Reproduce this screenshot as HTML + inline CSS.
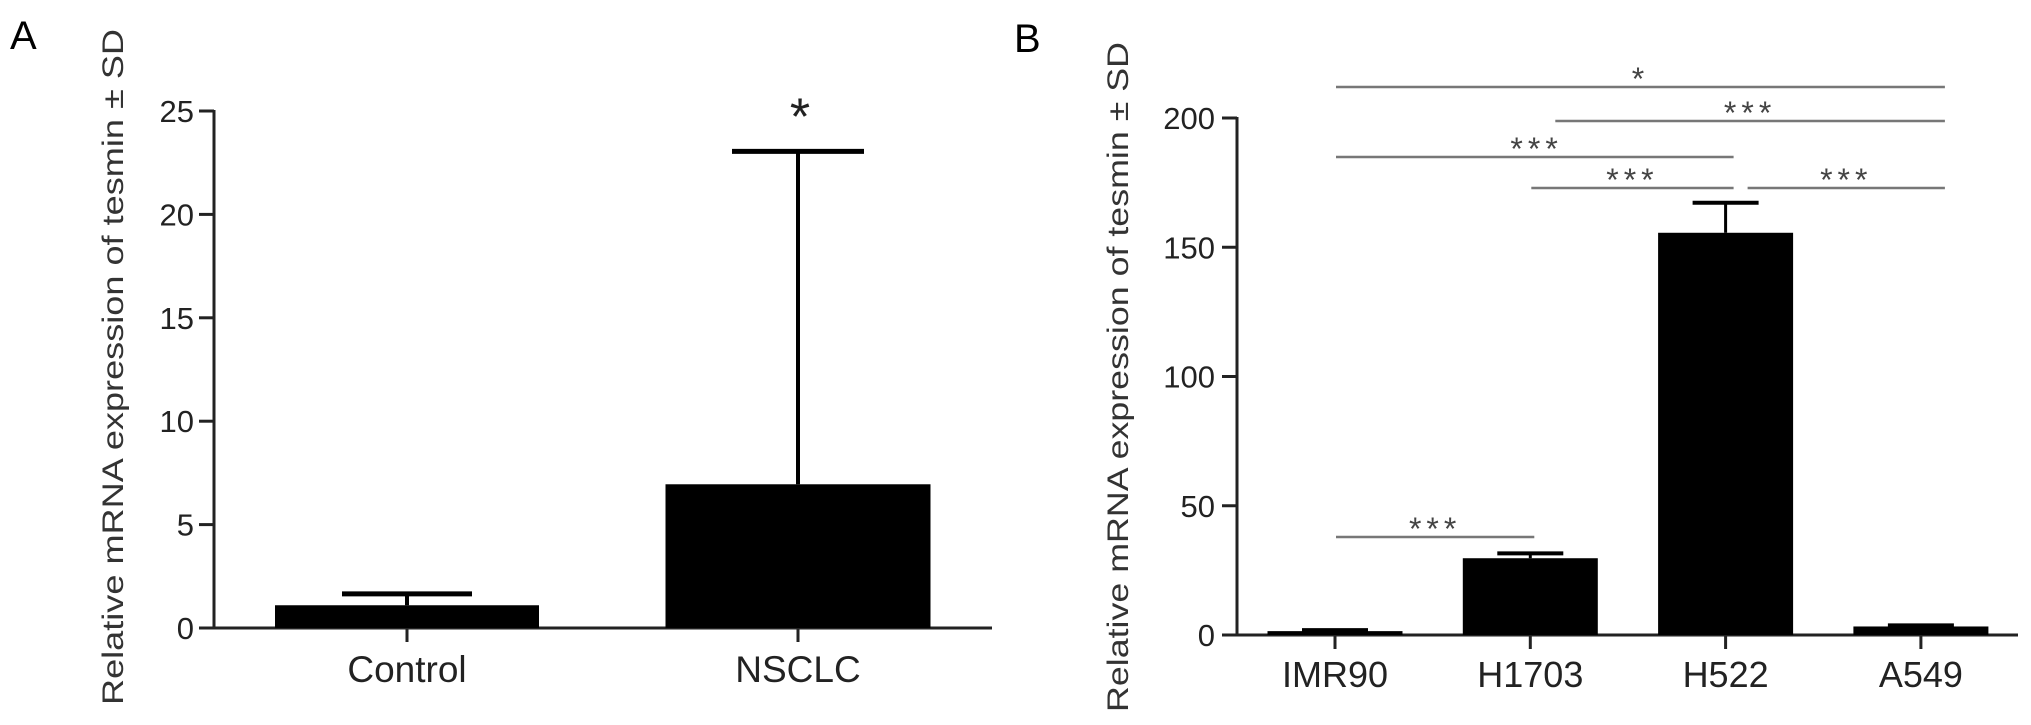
<!DOCTYPE html>
<html><head><meta charset="utf-8">
<style>
html,body{margin:0;padding:0;background:#fff;}
svg{display:block;font-family:"Liberation Sans",Arial,sans-serif;}
</style></head>
<body>
<svg id="fig" width="2031" height="725" viewBox="0 0 2031 725" xmlns="http://www.w3.org/2000/svg">
<text x="10" y="49" font-size="40">A</text>
<text x="1014" y="52" font-size="40">B</text>
<text transform="translate(123,367) rotate(-90)" text-anchor="middle" font-size="30" fill="#333" textLength="676" lengthAdjust="spacingAndGlyphs">Relative mRNA expression of tesmin ± SD</text>
<text transform="translate(1128,377) rotate(-90)" text-anchor="middle" font-size="30" fill="#333" textLength="670" lengthAdjust="spacingAndGlyphs">Relative mRNA expression of tesmin ± SD</text>
<g id="pa"></g>
<g id="pb"></g>
</svg>
<script>
const aCategories = ["Control", "NSCLC"];
const aValues = [1.1, 6.95];
const aErrors = [0.55, 16.1];
const aTicks = [0, 5, 10, 15, 20, 25];
const aStars = ["", "*"];

const bCategories = ["IMR90", "H1703", "H522", "A549"];
const bValues = [1.5, 29.7, 155.6, 3.3];
const bErrors = [0.4, 1.9, 11.6, 0.4];
const bTicks = [0, 50, 100, 150, 200];
// significance comparisons: [fromIndex, toIndex, label]
const bSigFrom = [0, 0, 1, 0, 1, 2];
const bSigTo = [3, 2, 3, 1, 2, 3];
const bSigLabel = ["*", "***", "***", "***", "***", "***"];

const NS = "http://www.w3.org/2000/svg";
function mk(parent, tag, attrs, txt){
  const e = document.createElementNS(NS, tag);
  for (const k in attrs) e.setAttribute(k, attrs[k]);
  if (txt !== undefined) e.textContent = txt;
  parent.appendChild(e);
  return e;
}

// ---------- Panel A ----------
(function(){
  const g = document.getElementById('pa');
  const x0 = 214, y0 = 628, pxPerUnit = 20.68, xEnd = 992;
  const y = v => y0 - v * pxPerUnit;
  const centers = [407, 798];
  const barW = [264, 265];
  const capW = [130, 132];
  let e = mk(g, 'line', {x1: x0, y1: y(25) - 1, x2: x0, y2: y0, stroke: '#222', 'stroke-width': 3});
  
  
  e = mk(g, 'line', {x1: 199, y1: y0, x2: xEnd, y2: y0, stroke: '#222', 'stroke-width': 3});
  
  
  aTicks.forEach(t => {
    let tk = mk(g, 'line', {x1: 199, y1: y(t), x2: x0, y2: y(t), stroke: '#222', 'stroke-width': 3});
    
    
    let tl = mk(g, 'text', {x: 194, y: y(t) + 11, 'text-anchor': 'end', 'font-size': 31, fill: '#222'}, String(t));
    
    
  });
  aCategories.forEach((c, i) => {
    const cx = centers[i];
    const top = y(aValues[i]);
    const errTop = y(aValues[i] + aErrors[i]);
    let ev = mk(g, 'line', {x1: cx, y1: errTop, x2: cx, y2: top, stroke: '#000', 'stroke-width': 4});
    
    
    let cap = mk(g, 'line', {x1: cx - capW[i] / 2, y1: errTop, x2: cx + capW[i] / 2, y2: errTop, stroke: '#000', 'stroke-width': 5});
    
    
    let b = mk(g, 'rect', {x: cx - barW[i] / 2, y: top, width: barW[i], height: y0 - top, fill: '#000'});
    
    
    let tk = mk(g, 'line', {x1: cx, y1: y0, x2: cx, y2: y0 + 14, stroke: '#222', 'stroke-width': 3});
    
    
    let lb = mk(g, 'text', {x: cx, y: 682, 'text-anchor': 'middle', 'font-size': 37, fill: '#222'}, c);
    
    
    if (aStars[i]) {
      let st = mk(g, 'text', {x: cx + 2, y: errTop - 17, 'text-anchor': 'middle', 'font-size': 52, fill: '#222'}, aStars[i]);
      
      
    }
  });
})();

// ---------- Panel B ----------
(function(){
  const g = document.getElementById('pb');
  const x0 = 1237, y0 = 635, pxPerUnit = 2.585, xEnd = 2018;
  const y = v => y0 - v * pxPerUnit;
  const xc = i => 1335 + i * 195.3;
  const barW = 135, capW = 66;
  let e = mk(g, 'line', {x1: x0, y1: y(200) - 1, x2: x0, y2: y0, stroke: '#222', 'stroke-width': 3});
  
  
  e = mk(g, 'line', {x1: 1222, y1: y0, x2: xEnd, y2: y0, stroke: '#222', 'stroke-width': 3});
  
  
  bTicks.forEach(t => {
    let tk = mk(g, 'line', {x1: 1222, y1: y(t), x2: x0, y2: y(t), stroke: '#222', 'stroke-width': 3});
    
    
    let tl = mk(g, 'text', {x: 1215, y: y(t) + 11, 'text-anchor': 'end', 'font-size': 31, fill: '#222'}, String(t));
    
    
  });
  bCategories.forEach((c, i) => {
    const cx = xc(i);
    const top = y(bValues[i]);
    const errTop = y(bValues[i] + bErrors[i]);
    let ev = mk(g, 'line', {x1: cx, y1: errTop, x2: cx, y2: top, stroke: '#000', 'stroke-width': 3});
    
    
    let cap = mk(g, 'line', {x1: cx - capW / 2, y1: errTop, x2: cx + capW / 2, y2: errTop, stroke: '#000', 'stroke-width': 4});
    
    
    let b = mk(g, 'rect', {x: cx - barW / 2, y: top, width: barW, height: y0 - top, fill: '#000'});
    
    
    let tk = mk(g, 'line', {x1: cx, y1: y0, x2: cx, y2: y0 + 14, stroke: '#222', 'stroke-width': 3});
    
    
    let lb = mk(g, 'text', {x: cx, y: 687, 'text-anchor': 'middle', 'font-size': 36, fill: '#222'}, c);
    
    
  });
  // significance brackets
  const sigY = [87, 157, 121, 537, 188, 188];
  bSigFrom.forEach((f, k) => {
    const t = bSigTo[k];
    let x1 = xc(f) + 1, x2 = xc(t) + 24;
    if (t === 2) x2 = xc(t) + 8;
    if (f === 2) x1 = xc(f) + 22;
    if (f === 1 && t === 3) x1 = xc(f) + 25;
    if (f === 0 && t === 1) x2 = xc(t) + 4;
    let ln = mk(g, 'line', {x1: x1, y1: sigY[k], x2: x2, y2: sigY[k], stroke: '#777', 'stroke-width': 2.5});
    
    
    const cxl = (x1 + x2) / 2;
    let tx = (f === 0 && t === 2) ? x2 - 197 : cxl;
    let st = mk(g, 'text', {x: tx, y: sigY[k] + 3, 'text-anchor': 'middle', 'font-size': 32, 'letter-spacing': 5, fill: '#444'}, bSigLabel[k]);
    
    
  });
})();
</script>
</body></html>
